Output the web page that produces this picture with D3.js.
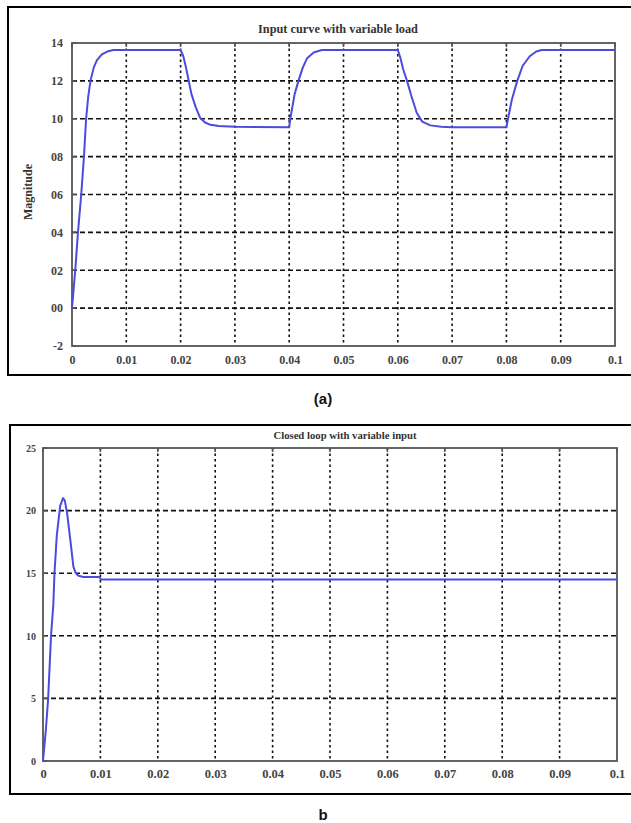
<!DOCTYPE html>
<html>
<head>
<meta charset="utf-8">
<script src="https://cdn.jsdelivr.net/npm/d3@7"></script>
<style>
  body { margin: 0; background: #fff; }
  svg { display: block; }
</style>
</head>
<body>
<div id="chart"></div>
<script>
// panel (a) - input curve
var timeA = [0, 0.0003, 0.0006, 0.0011, 0.0017, 0.0022, 0.0026, 0.003, 0.0034, 0.004, 0.0046, 0.0055, 0.0065, 0.0076, 0.01, 0.02,
    0.0205, 0.021, 0.0215, 0.022, 0.0228, 0.0236, 0.0245, 0.0255, 0.027, 0.03, 0.04,
    0.0402, 0.041, 0.0417, 0.0425, 0.0433, 0.0445, 0.046, 0.06,
    0.0605, 0.061, 0.0617, 0.0625, 0.0635, 0.0645, 0.066, 0.068, 0.07, 0.08,
    0.0803, 0.081, 0.082, 0.083, 0.0843, 0.0855, 0.0865, 0.1];
var valA = [0, 1, 2, 4, 6, 8, 10, 11.2, 12, 12.7, 13.1, 13.4, 13.55, 13.63, 13.63, 13.63,
    13.3, 12.7, 12, 11.3, 10.6, 10.05, 9.8, 9.68, 9.62, 9.58, 9.55,
    10, 11.3, 12, 12.7, 13.2, 13.5, 13.63, 13.63,
    13.2, 12.6, 12, 11.2, 10.3, 9.85, 9.65, 9.58, 9.55, 9.55,
    10, 11, 12, 12.8, 13.3, 13.55, 13.63, 13.63];
var yTicksA = [-2, 0, 2, 4, 6, 8, 10, 12, 14];
var yLabelsA = ['-2', '00', '02', '04', '06', '08', '10', '12', '14'];

// panel (b) - closed loop
var timeB = [0, 0.0005, 0.0009, 0.0014, 0.0018, 0.002, 0.0024, 0.003, 0.0035, 0.0038, 0.0042, 0.0048, 0.0053, 0.0057, 0.0062, 0.007, 0.0098, 0.0101, 0.1];
var valB = [0, 2.5, 5, 10, 12.5, 15, 18, 20.4, 21, 20.8, 19.8, 17.5, 15.5, 15, 14.8, 14.7, 14.7, 14.5, 14.5];
var yTicksB = [0, 5, 10, 15, 20, 25];

var xTicks = [0, 0.01, 0.02, 0.03, 0.04, 0.05, 0.06, 0.07, 0.08, 0.09, 0.1];
var xLabels = ['0', '0.01', '0.02', '0.03', '0.04', '0.05', '0.06', '0.07', '0.08', '0.09', '0.1'];

var col_line = '#4b4bdc';
var col_axis = '#555';

var svg = d3.select('#chart').append('svg')
    .attr('width', 631)
    .attr('height', 823);

function drawPanel(opt) {
    var x = d3.scaleLinear().domain([0, 0.1]).range([opt.left, opt.right]);
    var y = d3.scaleLinear().domain(opt.yDomain).range([opt.bottom, opt.top]);

    // outer frame (open on the right)
    svg.append('path')
        .attr('d', 'M631,' + opt.frame[1] + 'H' + opt.frame[0] + 'V' + opt.frame[2] + 'H631')
        .attr('fill', 'none')
        .attr('stroke', '#000')
        .attr('stroke-width', 2);

    var g = svg.append('g');

    // grid
    g.selectAll('.hg').data(opt.yTicks.slice(1, -1)).enter().append('line')
        .attr('x1', opt.left).attr('x2', opt.right)
        .attr('y1', function(d) { return y(d); })
        .attr('y2', function(d) { return y(d); })
        .attr('stroke', '#111')
        .attr('stroke-width', 1.6)
        .attr('stroke-dasharray', '5,3');
    g.selectAll('.vg').data(xTicks.slice(1, -1)).enter().append('line')
        .attr('y1', opt.top).attr('y2', opt.bottom)
        .attr('x1', function(d) { return x(d); })
        .attr('x2', function(d) { return x(d); })
        .attr('stroke', '#111')
        .attr('stroke-width', 1.6)
        .attr('stroke-dasharray', '2.5,3');

    // axes
    var xAxis = d3.axisBottom(x).tickValues(xTicks).tickSize(0).tickPadding(opt.xPad)
        .tickFormat(function(d, i) { return xLabels[i]; });
    var yAxis = d3.axisLeft(y).tickValues(opt.yTicks).tickSize(0).tickPadding(opt.yPad)
        .tickFormat(function(d, i) { return opt.yLabels[i]; });

    var ax = g.append('g').attr('transform', 'translate(0,' + opt.bottom + ')').call(xAxis);
    var ay = g.append('g').attr('transform', 'translate(' + opt.left + ',0)').call(yAxis);
    ax.select('.domain').remove();
    ay.select('.domain').remove();
    ax.selectAll('text')
        .attr('font-family', 'Liberation Serif, Times New Roman, serif')
        .attr('font-weight', 'bold')
        .attr('font-size', opt.xTickSize)
        .attr('fill', '#444');
    ay.selectAll('text')
        .attr('font-family', 'Liberation Serif, Times New Roman, serif')
        .attr('font-weight', 'bold')
        .attr('font-size', opt.yTickSize)
        .attr('fill', '#444');

    // small tick marks on the grid lines
    g.selectAll('.yt').data(opt.yTicks).enter().append('line')
        .attr('x1', opt.left).attr('x2', opt.left + 4)
        .attr('y1', function(d) { return y(d); })
        .attr('y2', function(d) { return y(d); })
        .attr('stroke', col_axis).attr('stroke-width', 1.5);
    g.selectAll('.xt').data(xTicks).enter().append('line')
        .attr('y1', opt.top).attr('y2', opt.top + 4)
        .attr('x1', function(d) { return x(d); })
        .attr('x2', function(d) { return x(d); })
        .attr('stroke', col_axis).attr('stroke-width', 1.5);

    g.append('rect')
        .attr('x', opt.left).attr('y', opt.top)
        .attr('width', opt.right - opt.left)
        .attr('height', opt.bottom - opt.top)
        .attr('fill', 'none')
        .attr('stroke', col_axis)
        .attr('stroke-width', 1.8);

    var line = d3.line()
        .x(function(d) { return x(d[0]); })
        .y(function(d) { return y(d[1]); });

    g.append('path')
        .datum(d3.zip(opt.times, opt.vals))
        .attr('d', line)
        .attr('fill', 'none')
        .attr('stroke', col_line)
        .attr('stroke-width', 2)
        .attr('stroke-linejoin', 'round');

    g.append('text')
        .attr('x', opt.titleX)
        .attr('y', opt.titleY)
        .attr('text-anchor', 'middle')
        .attr('font-family', 'Liberation Serif, Times New Roman, serif')
        .attr('font-weight', 'bold')
        .attr('font-size', opt.titleSize)
        .attr('fill', '#333')
        .text(opt.title);
}

drawPanel({
    frame: [8, 7, 375],
    left: 72, right: 615, top: 43, bottom: 346,
    yDomain: [-2, 14], yTicks: yTicksA, yLabels: yLabelsA,
    times: timeA, vals: valA,
    title: 'Input curve with variable load', titleX: 338, titleY: 33, titleSize: 12.3,
    xTickSize: 12, yTickSize: 12, xPad: 9, yPad: 9
});

drawPanel({
    frame: [10, 425, 794],
    left: 43, right: 617, top: 448, bottom: 761,
    yDomain: [0, 25], yTicks: yTicksB, yLabels: yTicksB.map(String),
    times: timeB, vals: valB,
    title: 'Closed loop with variable input', titleX: 345, titleY: 439, titleSize: 10.7,
    xTickSize: 12.5, yTickSize: 10, xPad: 8, yPad: 7
});

svg.append('text')
    .attr('transform', 'translate(32,192) rotate(-90)')
    .attr('text-anchor', 'middle')
    .attr('font-family', 'Liberation Serif, Times New Roman, serif')
    .attr('font-weight', 'bold')
    .attr('font-size', 12)
    .attr('fill', '#333')
    .text('Magnitude');

svg.append('text')
    .attr('x', 323).attr('y', 404)
    .attr('text-anchor', 'middle')
    .attr('font-family', 'Liberation Sans, Arial, sans-serif')
    .attr('font-weight', 'bold')
    .attr('font-size', 15)
    .attr('fill', '#111')
    .text('(a)');

svg.append('text')
    .attr('x', 323).attr('y', 820)
    .attr('text-anchor', 'middle')
    .attr('font-family', 'Liberation Sans, Arial, sans-serif')
    .attr('font-weight', 'bold')
    .attr('font-size', 15)
    .attr('fill', '#111')
    .text('b');
</script>
</body>
</html>
